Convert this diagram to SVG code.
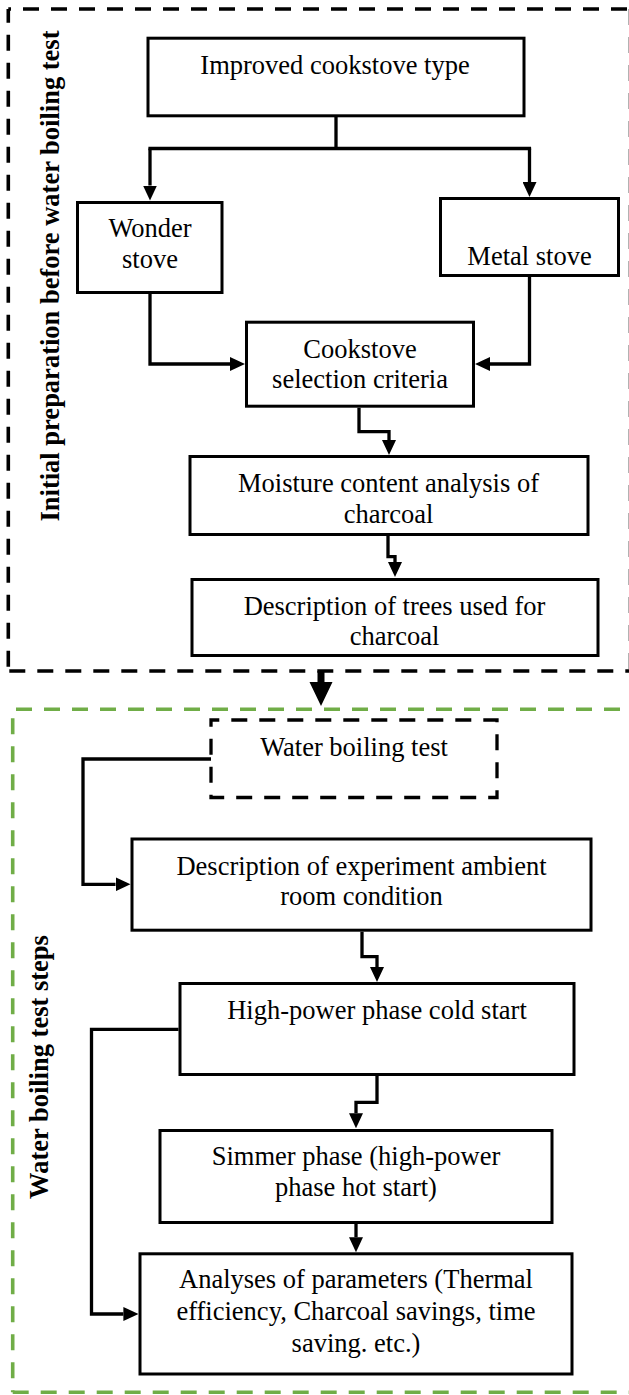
<svg xmlns="http://www.w3.org/2000/svg" width="629" height="1395" viewBox="0 0 629 1395">
<defs>
<style>
.box{fill:#fff;stroke:#000;stroke-width:3}
.dbox{fill:#fff;stroke:#000;stroke-width:3.3;stroke-dasharray:16 12}
.t{font-family:"Liberation Serif","Times New Roman",serif;font-size:26.5px;fill:#000;text-anchor:middle}
.vt{font-family:"Liberation Serif","Times New Roman",serif;font-size:26.5px;font-weight:bold;fill:#000;text-anchor:middle}
.c{fill:none;stroke:#000;stroke-width:3.3}
.ca{fill:none;stroke:#000;stroke-width:3.3;marker-end:url(#ah)}
.fb{fill:none;stroke:#000;stroke-width:3.6;stroke-dasharray:16 12}
.fg{fill:none;stroke:#70AD47;stroke-width:3.6;stroke-dasharray:16 12}
</style>
<marker id="ah" markerUnits="userSpaceOnUse" markerWidth="15" markerHeight="14" refX="0" refY="7" orient="auto" viewBox="0 0 15 14">
<path d="M0,0 L15,7 L0,14 z" fill="#000"/>
</marker>
</defs>
<rect width="629" height="1395" fill="#fff"/>

<g id="frame-initial">
<path class="fb" d="M8.3,9 H631" stroke-dashoffset="13.3"/>
<path class="fb" d="M8.3,671 V9" stroke-dashoffset="-4.3"/>
<path class="fb" d="M8.3,671 H631" stroke-dashoffset="-1"/>
<path class="fb" d="M630.5,9 V671"/>
<text class="vt" transform="translate(58.5,276) rotate(-90)">Initial preparation before water boiling test</text>
</g>

<g id="frame-wbt">
<path class="fg" d="M12.7,709.3 H634" stroke-dashoffset="-3.3"/>
<path class="fg" d="M12.7,709.3 V1392.3" stroke-dashoffset="-9"/>
<path class="fg" d="M12.7,1392.3 H634"/>
<text class="vt" transform="translate(47.5,1067) rotate(-90)">Water boiling test steps</text>
</g>

<g id="connectors">
<path class="c" d="M336,117 V148.5 M148.4,148.5 H531.1"/>
<path class="ca" d="M150,148.5 V185.5"/>
<path class="ca" d="M529.5,148.5 V182"/>
<path class="ca" d="M150,294 V364 H230"/>
<path class="ca" d="M529.5,277 V364 H490"/>
<path class="ca" d="M359,407.7 V431.7 H389 V440"/>
<path class="ca" d="M388,536 V556.7 H395 V562"/>
<path d="M317.5,671 H324.5 V682 H332.5 L321,706 L309.5,682 H317.5 Z" fill="#000"/>
<path class="ca" d="M211,759 H83 V884.3 H115.5"/>
<path class="ca" d="M362,931.7 V956.7 H377 V967"/>
<path class="ca" d="M178.5,1029.3 H91.5 V1314 H123.4"/>
<path class="ca" d="M377,1076 V1102.3 H356 V1113.3"/>
<path class="ca" d="M356,1224 V1237.3"/>
</g>

<g id="n-improved">
<rect class="box" x="148" y="38.2" width="376" height="77.6"/>
<text class="t" x="335" y="74">Improved cookstove type</text>
</g>

<g id="n-wonder">
<rect class="box" x="77.5" y="202.5" width="144.5" height="90"/>
<text class="t" x="150" y="237">Wonder</text>
<text class="t" x="150" y="268">stove</text>
</g>

<g id="n-metal">
<rect class="box" x="440.5" y="198.5" width="178" height="77"/>
<text class="t" x="529.5" y="265">Metal stove</text>
</g>

<g id="n-criteria">
<rect class="box" x="246.5" y="322.2" width="227" height="84"/>
<text class="t" x="360" y="358.3">Cookstove</text>
<text class="t" x="360" y="388.3">selection criteria</text>
</g>

<g id="n-moisture">
<rect class="box" x="190" y="456.5" width="398" height="78"/>
<text class="t" x="388.5" y="491.7">Moisture content analysis of</text>
<text class="t" x="388.5" y="522.7">charcoal</text>
</g>

<g id="n-trees">
<rect class="box" x="192" y="579.5" width="406" height="76"/>
<text class="t" x="394.5" y="615">Description of trees used for</text>
<text class="t" x="394.5" y="645">charcoal</text>
</g>

<g id="n-wbt">
<rect class="dbox" x="211" y="720" width="286" height="77.5" stroke-dashoffset="7.7"/>
<text class="t" x="354" y="756">Water boiling test</text>
</g>

<g id="n-ambient">
<rect class="box" x="132" y="839" width="459" height="91.2"/>
<text class="t" x="361.5" y="875">Description of experiment ambient</text>
<text class="t" x="361.5" y="905">room condition</text>
</g>

<g id="n-cold">
<rect class="box" x="180" y="983.5" width="394" height="91"/>
<text class="t" x="377" y="1019.3">High-power phase cold start</text>
</g>

<g id="n-simmer">
<rect class="box" x="160" y="1130.5" width="392" height="92"/>
<text class="t" x="356" y="1165">Simmer phase (high-power</text>
<text class="t" x="356" y="1196">phase hot start)</text>
</g>

<g id="n-analyses">
<rect class="box" x="140" y="1253.8" width="432" height="120.2"/>
<text class="t" x="356" y="1288.3">Analyses of parameters (Thermal</text>
<text class="t" x="356" y="1320">efficiency, Charcoal savings, time</text>
<text class="t" x="356" y="1351.7">saving. etc.)</text>
</g>
</svg>
